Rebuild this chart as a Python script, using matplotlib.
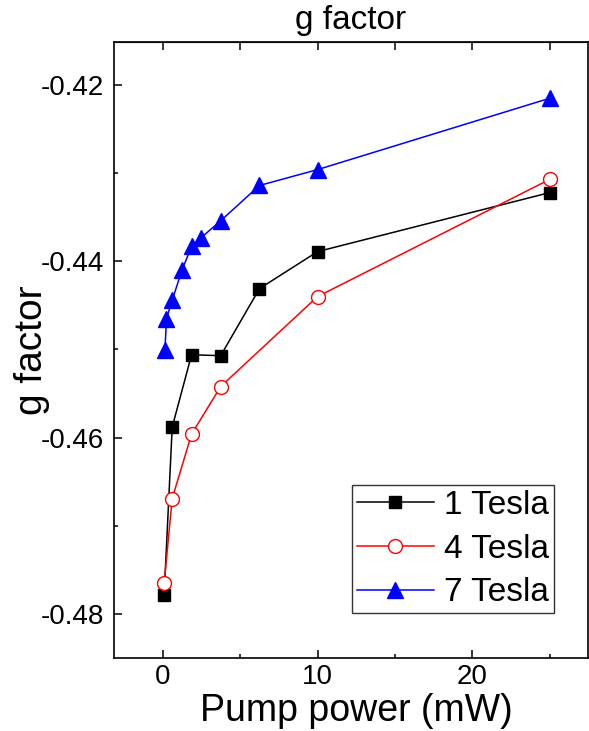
import matplotlib
matplotlib.use("Agg")
import matplotlib.pyplot as plt
from matplotlib.ticker import MultipleLocator

plt.rcParams["font.family"] = ["Liberation Sans", "DejaVu Sans"]

# pump power (mW) and g factor
x1 = [0.1, 0.62, 1.87, 3.75, 6.25, 10, 25]
g1 = [-0.4778, -0.4588, -0.4506, -0.4507, -0.4431, -0.4389, -0.4322]
x4 = [0.1, 0.62, 1.87, 3.75, 10, 25]
g4 = [-0.4765, -0.4669, -0.4596, -0.4542, -0.4440, -0.4307]
x7 = [0.15, 0.25, 0.62, 1.25, 1.87, 2.5, 3.75, 6.25, 10, 25]
g7 = [-0.4501, -0.4465, -0.4444, -0.4410, -0.4383, -0.4373, -0.4354, -0.4314, -0.4296, -0.4215]
labels = ["1 Tesla", "4 Tesla", "7 Tesla"]

fig = plt.figure(figsize=(5.89, 7.31), dpi=100)
ax = fig.add_axes([0.1935, 0.0995, 0.8045, 0.8425])

ax.plot(x1, g1, color="black", lw=1.1, marker="s", ms=9, mfc="black", mec="black", label=labels[0])
ax.plot(x4, g4, color="red", lw=1.1, marker="o", ms=10, mfc="white", mec="red", label=labels[1])
ax.plot(x7, g7, color="blue", lw=1.1, marker="^", ms=12, mfc="blue", mec="blue", label=labels[2])

ax.set_xlim(-3.14, 27.45)
ax.set_ylim(-0.48502, -0.41517)
ax.xaxis.set_major_locator(MultipleLocator(10))
ax.xaxis.set_minor_locator(MultipleLocator(5))
ax.yaxis.set_major_locator(MultipleLocator(0.02))
ax.yaxis.set_minor_locator(MultipleLocator(0.01))
ax.yaxis.set_major_formatter(plt.FuncFormatter(lambda v, p: f"{v:.2f}"))

ax.tick_params(which="both", direction="in", width=1.1, labelsize=20)
ax.tick_params(which="major", length=6)
ax.tick_params(which="minor", length=3.2)
ax.tick_params(axis="x", pad=4)
ax.tick_params(axis="y", pad=7)
for s in ax.spines.values():
    s.set_linewidth(1.2)

top = ax.secondary_xaxis("top")
top.set_xticks([0, 5, 10, 15, 20, 25])
top.tick_params(direction="in", length=5.5, width=1.1, labeltop=False)

ax.set_xlabel("Pump power (mW)", fontsize=27)
ax.xaxis.set_label_coords(0.512, -0.056)
ax.set_ylabel("g factor", fontsize=28)
ax.yaxis.set_label_coords(-0.135, 0.5)
ax.set_title("g factor", fontsize=24, pad=10)

leg = ax.legend(loc="lower right", bbox_to_anchor=(0.928, 0.073), fontsize=24,
                frameon=True, fancybox=False, edgecolor="black", handlelength=2.3,
                handletextpad=0.3, borderpad=0.15, labelspacing=0.38, borderaxespad=0)
leg.get_frame().set_linewidth(1.0)

fig.savefig("out.png", dpi=100)
